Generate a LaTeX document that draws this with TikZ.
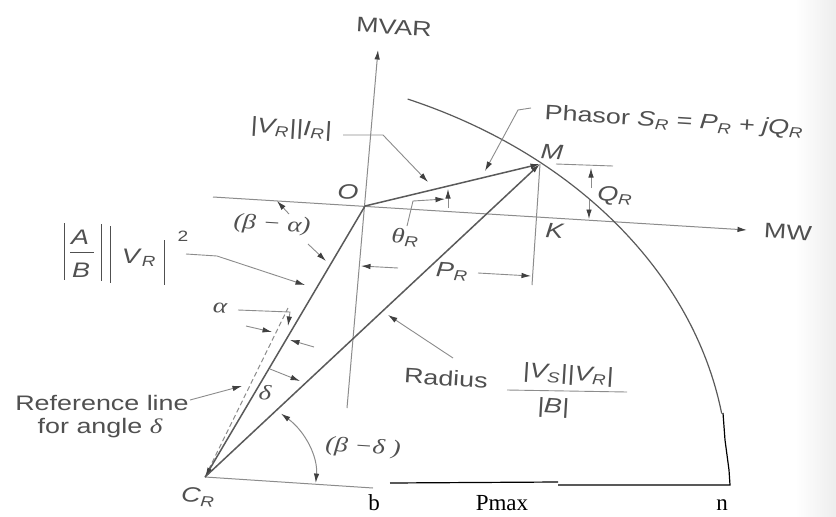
\documentclass[tikz,border=0pt]{standalone}
\usepackage{fontspec}
\setmainfont{Liberation Sans}[FakeStretch=1.28]
\newfontfamily\grf{Liberation Serif}[FakeStretch=1.28]
\newfontfamily\tmsf{Liberation Serif}
\usetikzlibrary{arrows.meta}
\definecolor{lnc}{HTML}{5A5A5A}
\definecolor{axc}{HTML}{8C8C8C}
\definecolor{txc}{HTML}{505050}
\definecolor{hdc}{HTML}{404040}
\newcommand{\vv}[1]{\textit{#1}}
\newcommand{\sbr}[1]{\textsubscript{\itshape #1}}
\newcommand{\gk}[1]{{\grf\itshape #1}}
\begin{document}
\begin{tikzpicture}[x=1pt,y=-1pt,
  every node/.style={inner sep=0pt, text=txc, font=\fontsize{21}{24}\selectfont},
  lbl/.style={rotate=-3.5},
  mainln/.style={draw=lnc, line width=1.5pt},
  axln/.style={draw=axc, line width=1pt},
  ldr/.style={draw=axc, line width=0.9pt},
  tip/.style={-{Latex[length=9.5pt,width=5.5pt,color=hdc]}},
  both/.style={{Latex[length=9.5pt,width=5.5pt,color=hdc]}-{Latex[length=9.5pt,width=5.5pt,color=hdc]}},
  blk/.style={draw=black, line width=1.2pt},
  tms/.style={text=black, font=\tmsf\fontsize{23}{26}\selectfont}]
\fill[white] (0,0) rectangle (836,517);
\useasboundingbox (0,0) rectangle (836,517);
\shade[left color=white, right color=gray!14] (795,0) rectangle (836,517);

% key points
\coordinate (O) at (365,206);
\coordinate (M) at (540,164);
\coordinate (CR) at (205,477);
\coordinate (Kf) at (532,285);
\coordinate (vtop) at (378,50);
\coordinate (vbot) at (347,408);
\coordinate (hl) at (213,197);
\coordinate (hr) at (747,230);
\coordinate (refend) at (288,308);
\coordinate (bend) at (373,488);

% axes and construction lines
\draw[axln,tip] (vbot) -- (vtop);
\draw[axln,tip] (hl) -- (hr);
\draw[axln] (M) -- (Kf);
\draw[axln, dash pattern=on 5pt off 3pt] (CR) -- (refend);
\draw[axln] (CR) -- (bend);

% circle arc
\draw[draw=lnc, line width=1.2pt] (CR) ++(-67.2:523 and 410)
  arc[start angle=-67.2, end angle=-8.9, x radius=523, y radius=410];

% phasors
\draw[mainln,tip] (O) -- (CR);
\draw[mainln,tip] (O) -- (M);
\draw[mainln,tip] (CR) -- (M);

% (beta - delta) arc
\draw[axln,both] (CR) ++(-46.8:111 and 87)
  arc[start angle=-46.8, end angle=4, x radius=111, y radius=87];

% labels
\node[lbl] (mvar) at (394,27) {MVAR};
\node[lbl] (mw) at (788,232) {MW};
\node[lbl] (Ol) at (348,192) {\vv{O}};
\node[lbl] (Ml) at (552,152) {\vv{M}};
\node[lbl] (Kl) at (555,231) {\vv{K}};
\node[lbl] (vi) at (291,129) {\vv{|V\sbr{R}||I\sbr{R}|}};
\node[lbl] (ph) at (674,122) {Phasor \vv{S}\sbr{R} = \vv{P}\sbr{R} + \vv{jQ}\sbr{R}};
\node[lbl] (qr) at (615,196) {\vv{Q}\sbr{R}};
\node[lbl] (th) at (405,238) {\gk{θ}\sbr{R}};
\node[lbl] (pr) at (452,272) {\vv{P}\sbr{R}};
\node[lbl] (ba) at (272,225) {\gk{(β − α)}};
\node[lbl] (al) at (220,308) {\gk{α}};
\node[lbl] (de) at (265,393) {\gk{δ}};
\node (refa) at (102,403) {Reference line};
\node (refb) at (100,428) {for angle \gk{δ}};
\node[lbl] (rad) at (446,378) {Radius};
\node[lbl] (rnum) at (568,375) {\vv{|V\sbr{S}||V\sbr{R}|}};
\node[lbl] (rden) at (553,408) {\vv{|B|}};
\draw[ldr] (507,390) -- (627,392);
\node[lbl] (bd) at (363,448) {\gk{(β −δ )}};
\node[lbl] (crl) at (198,497) {\vv{C}\sbr{R}};

% |A/B||V_R|^2
\node (Al) at (80,237) {\vv{A}};
\node (Bl) at (81,270) {\vv{B}};
\node (vrl) at (139,258) {\vv{V}\sbr{R}};
\node[font=\fontsize{15}{18}\selectfont] (sq) at (183,236) {2};
\draw[draw=txc, line width=1pt] (64,223) -- (64,280);
\draw[draw=txc, line width=1pt] (101,224) -- (101,281);
\draw[draw=txc, line width=1pt] (110,226) -- (110,283);
\draw[draw=txc, line width=1pt] (164,240) -- (164,285);
\draw[draw=txc, line width=0.9pt] (70,252) -- (94,252);

% leaders and angle arrows
\draw[ldr,tip] (343,135) -- (383,135) -- (428,182);
\draw[ldr,tip] (531,108) -- (518,110) -- (485,171);
\draw[ldr,tip] (448,208) -- (448,189);
\draw[ldr,tip] (407,226) -- (413,201) -- (445,199);
\draw[ldr,tip] (289,214) -- (277,201);
\draw[ldr,tip] (308,244) -- (326,261);
\draw[ldr,tip] (186,254) -- (217,256) -- (305,285);
\draw[ldr,tip] (238,310) -- (290,312) -- (288,326);
\draw[ldr,tip] (246,326) -- (272,332);
\draw[ldr,tip] (314,347) -- (290,340);
\draw[ldr,tip] (190,400) -- (242,386);
\draw[ldr,tip] (270,369) -- (300,381);
\draw[ldr,tip] (453,358) -- (388,315);
\draw[ldr,tip] (398,268) -- (361,266);
\draw[ldr,tip] (478,273) -- (531,276);
\draw[ldr] (556,164) -- (613,166);
\draw[ldr,tip] (591,188) -- (591,168);
\draw[ldr,tip] (589,200) -- (589,219);

% added Pmax construction
\draw[blk] (390,483) -- (558,482);
\draw[blk] (558,485) -- (730,485) -- (729,470) -- (725,440) -- (723,413);
\node[tms] (bl) at (374,503) {b};
\node[tms] (pm) at (502,503) {Pmax};
\node[tms] (nl) at (722,505) {n};
\end{tikzpicture}
\end{document}
